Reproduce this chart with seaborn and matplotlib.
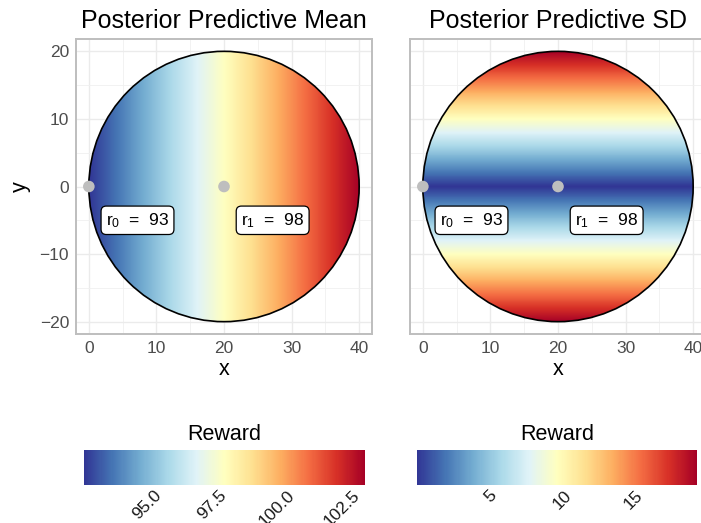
import numpy as np
import pandas as pd
import matplotlib
matplotlib.use("Agg")
import matplotlib.pyplot as plt
import matplotlib.colors as mcolors
import matplotlib.transforms as mtransforms
from matplotlib.patches import Circle
import seaborn as sns

# Observed arms: location and reward
obs_names = ["r$_{0}$", "r$_{1}$"]
obs_x = [0, 20]
obs_y = [0, 0]
obs_reward = [93, 98]

# Predictive mean along x (constant in y) at the disk's left and right edges
mean_x_knots = [0, 40]
mean_values = [92.74, 103.55]

# Predictive SD along |y| (constant in x) at the disk's centre line and rim
sd_y_knots = [0, 20]
sd_values = [0.07, 19.8]

# Disk of feasible actions
disk_center = (20, 0)
disk_radius = 20

mean_ticks = [95.0, 97.5, 100.0, 102.5]
mean_ticklabels = ["95.0", "97.5", "100.0", "102.5"]
sd_ticks = [5, 10, 15]
sd_ticklabels = ["5", "10", "15"]

sns.set_style("white")
plt.rcParams["font.family"] = ["Liberation Sans", "DejaVu Sans"]
plt.rcParams["mathtext.default"] = "regular"

fig = plt.figure(figsize=(7.01, 5.23), dpi=100)
W, H = 701, 523


def px_axes(x0, y0, x1, y1):
    return fig.add_axes([x0 / W, 1 - y1 / H, (x1 - x0) / W, (y1 - y0) / H])


ax_mean = px_axes(76, 39, 372, 334)
ax_sd = px_axes(410, 39, 706, 334)
cax_mean = px_axes(84, 450, 365, 485)
cax_sd = px_axes(417, 450, 697, 485)

cmap = plt.get_cmap("RdYlBu_r")

# Evaluation grid over the disk's bounding box
gx = np.linspace(disk_center[0] - disk_radius, disk_center[0] + disk_radius, 500)
gy = np.linspace(disk_center[1] - disk_radius, disk_center[1] + disk_radius, 500)
GX, GY = np.meshgrid(gx, gy)
mean_field = np.interp(GX, mean_x_knots, mean_values)
sd_field = np.interp(np.abs(GY), sd_y_knots, sd_values)

obs_df = pd.DataFrame({"x": obs_x, "y": obs_y, "reward": obs_reward, "name": obs_names})

panels = [
    (ax_mean, cax_mean, mean_field, "Posterior Predictive Mean", mean_ticks, mean_ticklabels, min(mean_values), max(mean_values)),
    (ax_sd, cax_sd, sd_field, "Posterior Predictive SD", sd_ticks, sd_ticklabels, min(sd_values), max(sd_values)),
]

label_shift = mtransforms.ScaledTranslation(4 / 100, 0, fig.dpi_scale_trans)

for i, (ax, cax, field, title, ticks, ticklabels, vmin, vmax) in enumerate(panels):
    norm = mcolors.Normalize(vmin=vmin, vmax=vmax)
    im = ax.imshow(field, origin="lower", cmap=cmap, norm=norm,
                   extent=[gx[0], gx[-1], gy[0], gy[-1]],
                   interpolation="bilinear", zorder=2)
    clip = Circle(disk_center, disk_radius, transform=ax.transData)
    im.set_clip_path(clip)
    ax.add_patch(Circle(disk_center, disk_radius, fill=False, edgecolor="black",
                        linewidth=1.2, zorder=3))

    sns.scatterplot(data=obs_df, x="x", y="y", ax=ax, color="#BEBEBE", s=70,
                    edgecolor="none", zorder=4, legend=False)
    for _, row in obs_df.iterrows():
        ax.text(row["x"] + 7.2, row["y"] - 5, f"{row['name']}  =  {row['reward']}",
                ha="center", va="center", fontsize=12.5, color="black", zorder=5,
                bbox=dict(boxstyle="round,pad=0.28,rounding_size=0.3",
                          facecolor="white", edgecolor="black", linewidth=0.9))

    ax.set_xlim(-1.9, 41.9)
    ax.set_ylim(-21.8, 21.8)
    ax.set_xticks([0, 10, 20, 30, 40])
    ax.set_yticks([-20, -10, 0, 10, 20])
    ax.set_xticks([5, 15, 25, 35], minor=True)
    ax.set_yticks([-15, -5, 5, 15], minor=True)
    ax.grid(True, which="major", color="#EBEBEB", linewidth=1.0, zorder=0)
    ax.grid(True, which="minor", color="#F0F0F0", linewidth=0.6, zorder=0)
    ax.set_axisbelow(True)
    ax.tick_params(axis="both", which="both", length=0, labelsize=12.5,
                   labelcolor="#4D4D4D", pad=5)
    for sp in ax.spines.values():
        sp.set_color("#BEBEBE")
        sp.set_linewidth(1.4)
        sp.set_visible(True)
    ax.set_title(title, fontsize=18, color="black", pad=8)
    ax.set_xlabel("x", fontsize=15.5, color="black", labelpad=2)
    if i == 0:
        ax.set_ylabel("y", fontsize=15.5, color="black", labelpad=6)
    else:
        ax.set_ylabel("")
        ax.set_yticklabels([])

    cb = fig.colorbar(im, cax=cax, orientation="horizontal")
    cb.outline.set_visible(False)
    cb.set_ticks(ticks)
    cb.set_ticklabels(ticklabels)
    cax.minorticks_off()
    cax.tick_params(axis="x", which="major", direction="in", length=5, width=0.9,
                    color="white", top=True, bottom=True, labeltop=False,
                    labelbottom=True, labelsize=12.5, labelcolor="#1A1A1A", pad=2)
    for lab in cax.get_xticklabels():
        lab.set_rotation(45)
        lab.set_ha("center")
        lab.set_va("top")
        lab.set_transform(lab.get_transform() + label_shift)
    cax.set_title("Reward", fontsize=15.5, color="black", pad=7)

fig.savefig("out.png", dpi=100)
